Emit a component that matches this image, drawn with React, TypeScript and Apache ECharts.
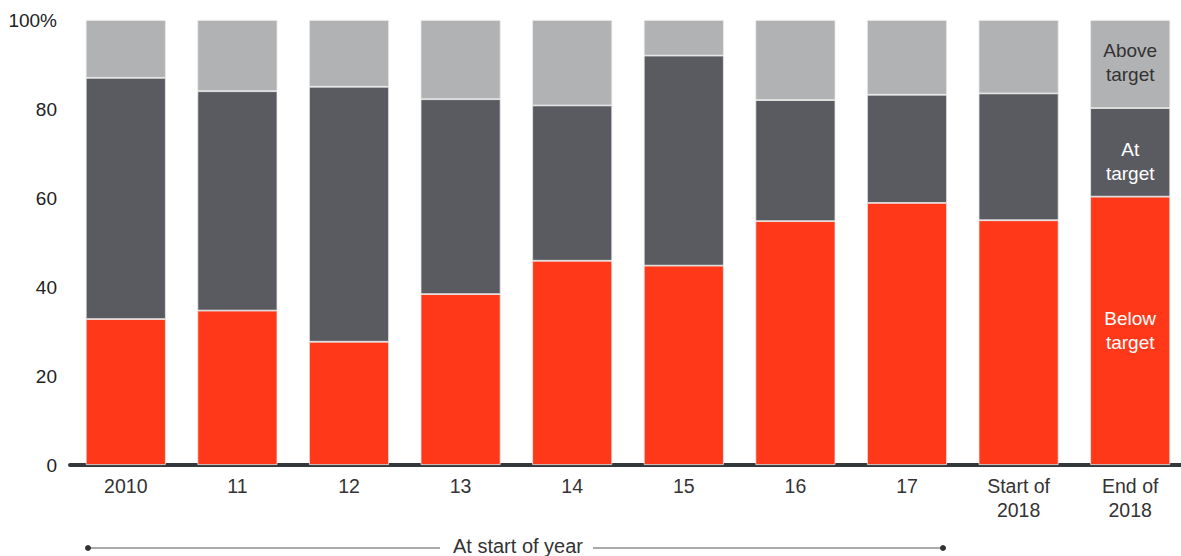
import React, { useEffect, useRef } from "react";
import * as echarts from "echarts";

const categories = ["2010", "11", "12", "13", "14", "15", "16", "17", "Start of\n2018", "End of\n2018"];
const belowTarget = [32.8, 34.7, 27.7, 38.4, 45.9, 44.8, 54.8, 58.9, 55.0, 60.3];
const atTarget = [54.2, 49.3, 57.3, 43.8, 34.9, 47.2, 27.2, 24.3, 28.5, 19.9];
const aboveTarget = [13.0, 16.0, 15.0, 17.8, 19.2, 8.0, 18.0, 16.8, 16.5, 19.8];
const yTicks = [0, 20, 40, 60, 80, 100];
const seriesNames = ["Below\ntarget", "At\ntarget", "Above\ntarget"];
const footnote = "At start of year";

const FONT = "'Liberation Sans', Arial, sans-serif";

export default function App() {
  const ref = useRef<HTMLDivElement>(null);
  useEffect(() => {
    if (!ref.current) return;
    const chart = echarts.init(ref.current, undefined, { renderer: "svg" });
    const last = categories.length - 1;
    const mk = (vals: number[], name: string, color: string, labelColor: string, offsetY: number) => ({
      type: "bar",
      stack: "total",
      name,
      barWidth: 80,
      itemStyle: { color, borderColor: "#e9e9e9", borderWidth: 0.8 },
      data: vals.map((v, i) =>
        i === last
          ? {
              value: v,
              label: {
                show: true,
                position: "inside",
                formatter: name,
                color: labelColor,
                fontSize: 19,
                lineHeight: 24,
                fontFamily: FONT,
                offset: [0, offsetY],
              },
            }
          : v
      ),
    });
    chart.setOption({
      animation: false,
      textStyle: { fontFamily: FONT },
      grid: { left: 70, top: 20, bottom: 91, width: 1116, containLabel: false },
      xAxis: {
        type: "category",
        data: categories,
        offset: 2,
        axisLine: { show: true, lineStyle: { color: "#33383d", width: 4 } },
        axisTick: { show: false },
        axisLabel: { color: "#333", fontSize: 19.5, lineHeight: 24, margin: 7, fontFamily: FONT, interval: 0 },
      },
      yAxis: {
        type: "value",
        min: 0,
        max: 100,
        interval: 20,
        axisLine: { show: false },
        axisTick: { show: false },
        splitLine: { show: false },
        axisLabel: {
          color: "#222",
          fontSize: 19,
          margin: 13,
          fontFamily: FONT,
          formatter: (v: number) => (yTicks.includes(v) ? (v === 100 ? "100%" : String(v)) : ""),
        },
      },
      series: [
        mk(belowTarget, seriesNames[0], "#FF3819", "#fff", 0),
        mk(atTarget, seriesNames[1], "#5A5B60", "#fff", 9),
        mk(aboveTarget, seriesNames[2], "#B1B2B4", "#333", -2),
      ],
      graphic: [
        { type: "line", shape: { x1: 88, y1: 548, x2: 440, y2: 548 }, style: { stroke: "#555", lineWidth: 1 } },
        { type: "line", shape: { x1: 593, y1: 548, x2: 943, y2: 548 }, style: { stroke: "#555", lineWidth: 1 } },
        { type: "circle", shape: { cx: 88, cy: 548, r: 3 }, style: { fill: "#333" } },
        { type: "circle", shape: { cx: 943, cy: 548, r: 3 }, style: { fill: "#333" } },
        {
          type: "text",
          x: 518,
          y: 546,
          style: { text: footnote, fill: "#333", font: `20px ${FONT}`, align: "center", verticalAlign: "middle" },
        },
      ],
    });
    return () => chart.dispose();
  }, []);
  return (
    <div style={{ position: "absolute", left: 0, top: 0, width: 1181, height: 556, overflow: "hidden" }}>
      <div ref={ref} style={{ width: 1196, height: 556 }} />
    </div>
  );
}
